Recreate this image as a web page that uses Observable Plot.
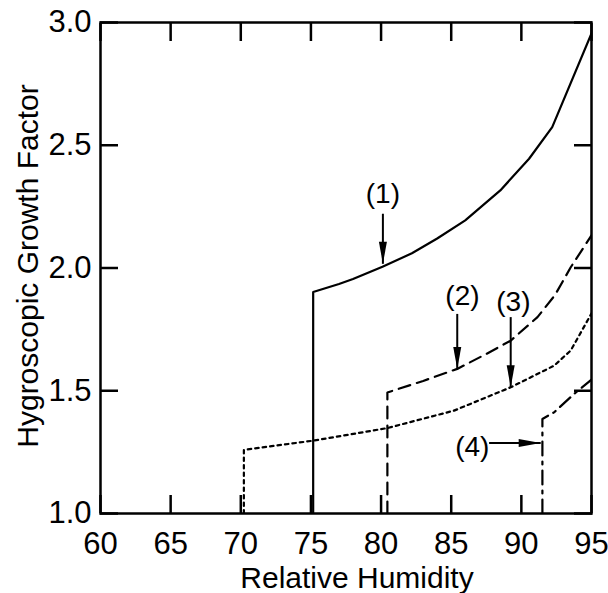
<!DOCTYPE html>
<html><head><meta charset="utf-8">
<script src="https://cdn.jsdelivr.net/npm/d3@7"></script>
<script src="https://cdn.jsdelivr.net/npm/@observablehq/plot@0.6"></script>
<style>body{margin:0;background:#fff} svg{display:block}</style>
</head><body><div id="chart"></div>
<script>
// Axis ticks
const xTicks = [60, 65, 70, 75, 80, 85, 90, 95];
const yTicks = [1.0, 1.5, 2.0, 2.5, 3.0];
const xTitle = "Relative Humidity";
const yTitle = "Hygroscopic Growth Factor";

// Curve (1) solid
const rh1 = [75.16, 75.16, 77.0, 78.0, 80.1, 82.2, 84.0, 86.0, 88.5, 90.55, 92.2, 95.0];
const gf1 = [1.0, 1.902, 1.935, 1.955, 2.005, 2.06, 2.12, 2.194, 2.316, 2.445, 2.574, 2.955];
// Curve (2) dashed
const rh2 = [80.45, 80.45, 83.0, 85.43, 87.5, 89.24, 91.15, 92.4, 93.52, 95.0];
const gf2 = [1.0, 1.493, 1.54, 1.589, 1.65, 1.704, 1.80, 1.89, 2.003, 2.133];
// Curve (3) dotted
const rh3 = [70.22, 70.22, 75.2, 80.45, 85.2, 89.24, 92.33, 93.52, 95.0];
const gf3 = [1.0, 1.259, 1.297, 1.348, 1.419, 1.514, 1.602, 1.664, 1.815];
// Curve (4) dash-dot
const rh4 = [91.5, 91.5, 92.33, 93.76, 95.0];
const gf4 = [1.0, 1.385, 1.412, 1.487, 1.545];

// Annotations
const labels = ["(1)", "(2)", "(3)", "(4)"];
const labelX = [80.13, 85.8, 89.43, 86.5];
const labelY = [2.302, 1.887, 1.861, 1.269];
const arrowX1 = [80.13, 85.43, 89.24, 87.7];
const arrowY1 = [2.221, 1.813, 1.80, 1.287];
const arrowX2 = [80.13, 85.43, 89.24, 91.38];
const arrowY2 = [2.017, 1.589, 1.514, 1.287];
const headRotate = [0, 0, 0, -90];

const toRows = (xs, ys) => xs.map((x, i) => ({x, y: ys[i]}));
const curves = [
  {rows: toRows(rh1, gf1), dash: null},
  {rows: toRows(rh2, gf2), dash: "12,7"},
  {rows: toRows(rh3, gf3), dash: "3.5,4"},
  {rows: toRows(rh4, gf4), dash: "14,6,3,6"}
];
const labelRows = labels.map((t, i) => ({t, x: labelX[i], y: labelY[i]}));
const arrowRows = labels.map((t, i) => ({x1: arrowX1[i], y1: arrowY1[i], x2: arrowX2[i], y2: arrowY2[i], r: headRotate[i]}));

// narrow filled arrowhead, tip at origin, pointing down
const head = {draw(ctx) { ctx.moveTo(0, 0); ctx.lineTo(-4, -22); ctx.lineTo(4, -22); ctx.closePath(); }};

const font = "'Liberation Sans', Arial, Helvetica, sans-serif";

const chart = Plot.plot({
  width: 608, height: 593,
  marginLeft: 100, marginRight: 17, marginTop: 22, marginBottom: 80,
  style: {fontFamily: font, background: "#fff", color: "#000"},
  x: {domain: [60, 95]},
  y: {domain: [1, 3]},
  marks: [
    ...curves.map(c => Plot.line(c.rows, {x: "x", y: "y", stroke: "black", strokeWidth: 2.2, strokeDasharray: c.dash, clip: true})),
    Plot.link(arrowRows, {x1: "x1", y1: "y1", x2: "x2", y2: "y2", stroke: "black", strokeWidth: 2}),
    Plot.dot(arrowRows, {x: "x2", y: "y2", symbol: head, rotate: "r", fill: "black", stroke: "none"}),
    Plot.text(labelRows, {x: "x", y: "y", text: "t", fontSize: 28, fill: "black"}),
    Plot.axisX({anchor: "bottom", ticks: xTicks, tickSize: -18, fill: "none", strokeWidth: 2.5, label: null}),
    Plot.axisX({anchor: "top", ticks: xTicks, tickSize: -18, fill: "none", strokeWidth: 2.5, label: null}),
    Plot.axisY({anchor: "left", ticks: yTicks, tickSize: -18, fill: "none", strokeWidth: 2.5, label: null}),
    Plot.axisY({anchor: "right", ticks: yTicks, tickSize: -18, fill: "none", strokeWidth: 2.5, label: null}),
    Plot.axisX({anchor: "bottom", ticks: xTicks, tickSize: 0, tickPadding: 18, fontSize: 31, label: null}),
    Plot.axisY({anchor: "left", ticks: yTicks, tickSize: 0, tickPadding: 9, fontSize: 31, tickFormat: d => d.toFixed(1), label: null}),
    Plot.frame({stroke: "black", strokeWidth: 2.5}),
    Plot.text([xTitle], {frameAnchor: "bottom", textAnchor: "middle", dx: 11, dy: 74, lineAnchor: "bottom", fontSize: 30, fill: "black"}),
    Plot.text([yTitle], {frameAnchor: "left", textAnchor: "middle", rotate: -90, dx: -63, dy: -2, lineAnchor: "bottom", fontSize: 30, fill: "black"})
  ]
});
document.getElementById("chart").appendChild(chart);
</script>
</body></html>
